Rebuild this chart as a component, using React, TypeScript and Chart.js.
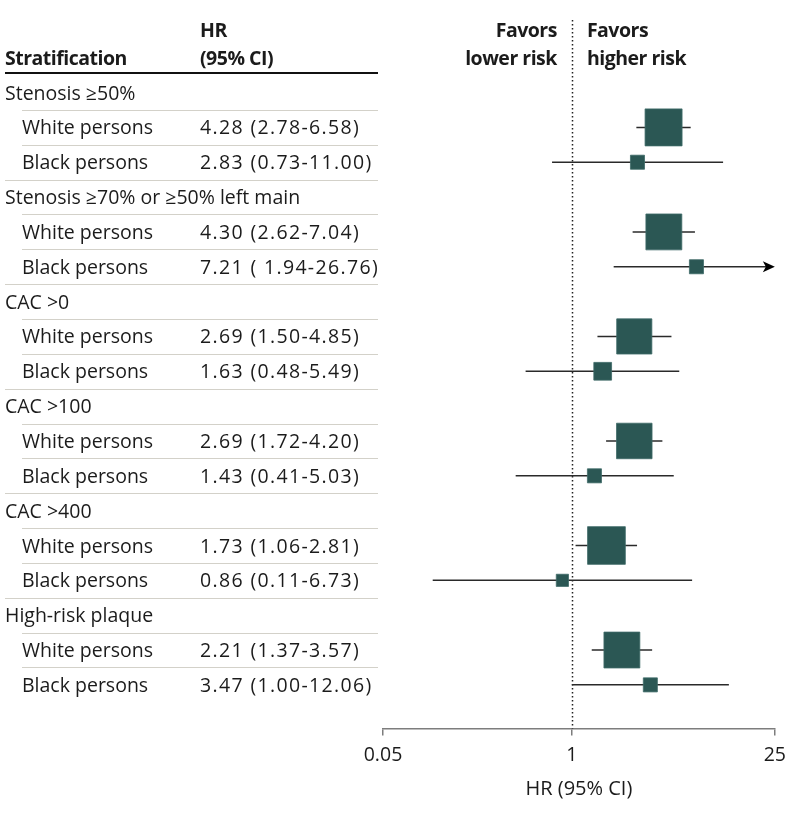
import React, { useEffect, useRef, useState } from "react";
import { Chart, registerables } from "chart.js";

Chart.register(...registerables);

// ---------------- data ----------------
const groupLabels = [
  "Stenosis ≥50%",
  "Stenosis ≥70% or ≥50% left main",
  "CAC >0",
  "CAC >100",
  "CAC >400",
  "High-risk plaque",
];
const subgroupLabels = ["White persons", "Black persons"];
const hrValues = [4.28, 2.83, 4.3, 7.21, 2.69, 1.63, 2.69, 1.43, 1.73, 0.86, 2.21, 3.47];
const ciLower = [2.78, 0.73, 2.62, 1.94, 1.5, 0.48, 1.72, 0.41, 1.06, 0.11, 1.37, 1.0];
const ciUpper = [6.58, 11.0, 7.04, 26.76, 4.85, 5.49, 4.2, 5.03, 2.81, 6.73, 3.57, 12.06];
const hrText = [
  "4.28 (2.78-6.58)",
  "2.83 (0.73-11.00)",
  "4.30 (2.62-7.04)",
  "7.21 ( 1.94-26.76)",
  "2.69 (1.50-4.85)",
  "1.63 (0.48-5.49)",
  "2.69 (1.72-4.20)",
  "1.43 (0.41-5.03)",
  "1.73 (1.06-2.81)",
  "0.86 (0.11-6.73)",
  "2.21 (1.37-3.57)",
  "3.47 (1.00-12.06)",
];
// relative study weight (drives box size)
const boxWeight = [1.0, 0.38, 0.97, 0.38, 0.95, 0.48, 0.96, 0.38, 1.02, 0.33, 0.97, 0.38];
const axisTicks = [0.05, 1, 25];
const axisMin = 0.05;
const axisMax = 25;
const axisTitle = "HR (95% CI)";
const headerStrat = "Stratification";
const headerHR = ["HR", "(95% CI)"];
const favorsLower = ["Favors", "lower risk"];
const favorsHigher = ["Favors", "higher risk"];

// ---------------- layout / style ----------------
const W = 794;
const H = 815;
const FONT = "'Open Sans', 'Noto Sans', sans-serif";
const FS = 19.5;
const TEXT = "#1b1b1b";
const BOX = "#2b5754";
const BOX_MAX = 37;

type Row = { label: string; kind: "group" | "sub"; row: number; idx: number };
const rows: Row[] = [];
groupLabels.forEach((g, gi) => {
  rows.push({ label: g, kind: "group", row: gi * 3, idx: -1 });
  subgroupLabels.forEach((s, si) => {
    rows.push({ label: s, kind: "sub", row: gi * 3 + 1 + si, idx: gi * 2 + si });
  });
});
const pointRows = hrValues.map((_, i) => Math.floor(i / 2) * 3 + 1 + (i % 2));
const lastRow = rows.length - 1;

const forestPlugin = {
  id: "forest",
  beforeDatasetsDraw(chart: any) {
    const { ctx, chartArea } = chart;
    const x = chart.scales.x;
    const y = chart.scales.y;
    ctx.save();
    // table header rule
    ctx.strokeStyle = "#111";
    ctx.lineWidth = 2;
    ctx.beginPath();
    const hy = Math.round(y.getPixelForValue(-0.57));
    ctx.moveTo(5, hy);
    ctx.lineTo(378, hy);
    ctx.stroke();
    // row separators
    ctx.strokeStyle = "#d3d1c9";
    ctx.lineWidth = 1;
    for (let r = 0; r < lastRow; r++) {
      const yy = Math.round(y.getPixelForValue(r + 0.5)) + 0.5;
      const full = r % 3 === 2;
      ctx.beginPath();
      ctx.moveTo(full ? 5 : 22, yy);
      ctx.lineTo(378, yy);
      ctx.stroke();
    }
    // dotted reference line at HR = 1
    const x1 = Math.round(x.getPixelForValue(1)) + 0.5;
    ctx.strokeStyle = "#222";
    ctx.lineWidth = 1.5;
    ctx.setLineDash([1.5, 2.5]);
    ctx.beginPath();
    ctx.moveTo(x1, chartArea.top);
    ctx.lineTo(x1, chartArea.bottom);
    ctx.stroke();
    ctx.setLineDash([]);
    // confidence intervals
    ctx.strokeStyle = "#2a2a2a";
    ctx.fillStyle = "#000";
    ctx.lineWidth = 1.5;
    hrValues.forEach((_, i) => {
      const yy = y.getPixelForValue(pointRows[i]);
      const lo = Math.max(ciLower[i], axisMin);
      const hi = Math.min(ciUpper[i], axisMax);
      const xa = x.getPixelForValue(lo);
      const xb = x.getPixelForValue(hi);
      const arrow = ciUpper[i] > axisMax;
      ctx.beginPath();
      ctx.moveTo(xa, yy);
      ctx.lineTo(arrow ? xb - 8 : xb, yy);
      ctx.stroke();
      if (arrow) {
        ctx.beginPath();
        ctx.moveTo(xb, yy);
        ctx.lineTo(xb - 12, yy - 5.5);
        ctx.lineTo(xb - 9, yy);
        ctx.lineTo(xb - 12, yy + 5.5);
        ctx.closePath();
        ctx.fill();
      }
    });
    ctx.restore();
  },
};

type Layout = { ys: number[]; hr1: number; hr2: number; xOne: number };

export default function App() {
  const canvasRef = useRef<HTMLCanvasElement | null>(null);
  const [layout, setLayout] = useState<Layout | null>(null);

  useEffect(() => {
    if (!canvasRef.current) return;
    const chart = new Chart(canvasRef.current, {
      type: "scatter",
      data: {
        datasets: [
          {
            data: hrValues.map((v, i) => ({ x: v, y: pointRows[i] })),
            pointStyle: "rect",
            pointRadius: (c: any) => (BOX_MAX * boxWeight[c.dataIndex]) / Math.SQRT2,
            backgroundColor: BOX,
            borderColor: "#3f6b68",
            borderWidth: 0.8,
            clip: false,
          } as any,
        ],
      },
      options: {
        responsive: false,
        animation: false,
        events: [],
        layout: { autoPadding: false, padding: { left: 383, right: 16, top: 20, bottom: 14 } },
        plugins: { legend: { display: false }, tooltip: { enabled: false } },
        scales: {
          x: {
            type: "logarithmic",
            min: axisMin,
            max: axisMax,
            afterBuildTicks: (s: any) => {
              s.ticks = axisTicks.map((v) => ({ value: v }));
            },
            ticks: {
              autoSkip: false,
              maxRotation: 0,
              padding: 8,
              color: TEXT,
              font: { family: FONT, size: FS },
              callback: (v: any) => String(v),
            },
            grid: {
              display: true,
              drawOnChartArea: false,
              drawTicks: true,
              tickLength: 7,
              color: "#7d7d7d",
              lineWidth: 1.5,
            },
            border: { display: true, color: "#7d7d7d", width: 1.5 },
            title: {
              display: true,
              text: axisTitle,
              color: TEXT,
              font: { family: FONT, size: 20 },
              padding: { top: 2, bottom: 0 },
            },
          },
          y: {
            type: "linear",
            display: false,
            reverse: true,
            min: -2.082,
            max: 18.255,
          },
        },
      } as any,
      plugins: [forestPlugin],
    });
    const ys = rows.map((r) => chart.scales.y.getPixelForValue(r.row));
    setLayout({
      ys,
      hr1: chart.scales.y.getPixelForValue(-1.8),
      hr2: chart.scales.y.getPixelForValue(-1.0),
      xOne: chart.scales.x.getPixelForValue(1),
    });
    return () => chart.destroy();
  }, []);

  const base: React.CSSProperties = {
    position: "absolute",
    fontFamily: FONT,
    fontSize: FS,
    color: TEXT,
    lineHeight: "24px",
    whiteSpace: "pre",
    transform: "translateY(-50%)",
  };
  const bold: React.CSSProperties = { ...base, fontWeight: 700, letterSpacing: "-0.5px" };
  const num: React.CSSProperties = { ...base, letterSpacing: "1.35px" };

  return (
    <div style={{ position: "absolute", left: 0, top: 0, width: W, height: H, background: "#fff" }}>
      <canvas ref={canvasRef} width={W} height={H} style={{ position: "absolute", left: 0, top: 0 }} />
      {layout && (
        <>
          <div style={{ ...bold, left: 5, top: layout.hr2 }}>{headerStrat}</div>
          <div style={{ ...bold, left: 200, top: layout.hr1 }}>{headerHR[0]}</div>
          <div style={{ ...bold, left: 200, top: layout.hr2 }}>{headerHR[1]}</div>
          <div style={{ ...bold, right: W - (layout.xOne - 15), top: layout.hr1, textAlign: "right" }}>
            {favorsLower[0]}
          </div>
          <div style={{ ...bold, right: W - (layout.xOne - 15), top: layout.hr2, textAlign: "right" }}>
            {favorsLower[1]}
          </div>
          <div style={{ ...bold, left: layout.xOne + 15, top: layout.hr1 }}>{favorsHigher[0]}</div>
          <div style={{ ...bold, left: layout.xOne + 15, top: layout.hr2 }}>{favorsHigher[1]}</div>
          {rows.map((r, i) => (
            <React.Fragment key={i}>
              <div style={{ ...base, left: r.kind === "group" ? 5 : 22, top: layout.ys[i] }}>{r.label}</div>
              {r.kind === "sub" && (
                <div style={{ ...num, left: 200, top: layout.ys[i] }}>{hrText[r.idx]}</div>
              )}
            </React.Fragment>
          ))}
        </>
      )}
    </div>
  );
}
